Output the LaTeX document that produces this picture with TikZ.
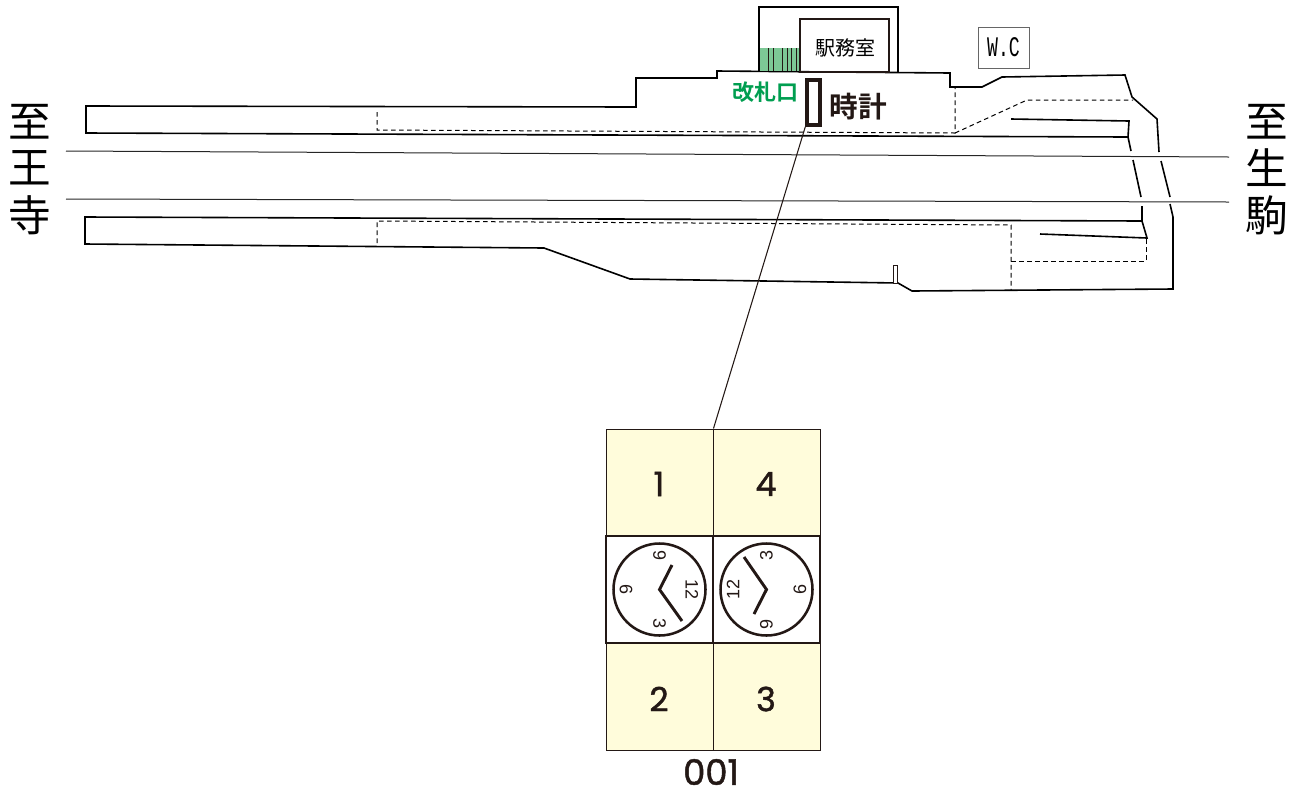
\documentclass[tikz,border=0pt]{standalone}
\usepackage{fontspec}
\setmainfont{Liberation Sans}
\newfontfamily\jpfont{Noto Sans CJK JP}
\newfontfamily\jpbold{Noto Sans CJK JP Bold}
\newfontfamily\numfont[FakeBold=1.3]{Poppins}
\newfontfamily\wcfont{Liberation Mono}
\definecolor{cellyellow}{RGB}{255,252,219}
\definecolor{gategreen}{RGB}{0,158,80}
\definecolor{stripegreen}{RGB}{125,200,150}
\definecolor{inkdark}{RGB}{35,24,21}
\tikzset{
    wall/.style={line width=1.2pt, black, line join=miter},
    hidden/.style={line width=0.75pt, dash pattern=on 3.5pt off 2.5pt, black},
    track/.style={line width=0.75pt, black!85},
    cell/.style={draw=inkdark, line width=0.7pt, fill=cellyellow, minimum width=80.25pt, minimum height=80.25pt, inner sep=0pt},
    numeral/.style={font=\numfont\fontsize{25}{25}\selectfont, text=inkdark, inner sep=0pt},
    clockbox/.style={draw=inkdark, line width=2.2pt, fill=white, minimum width=80.25pt, minimum height=80.25pt, inner sep=0pt},
    clockface/.style={draw=inkdark, line width=1.9pt, circle, fill=white, minimum size=69pt, inner sep=0pt},
    hand/.style={inkdark, line width=2.2pt},
    dial/.style={font=\fontsize{13.5}{13.5}\selectfont, text=inkdark, inner sep=0pt},
    kanji/.style={font=\jpfont\fontsize{32}{32}\selectfont, text=black, inner sep=0pt}
}
\begin{document}
\begin{tikzpicture}[x=0.75pt,y=-0.75pt]
    \useasboundingbox (0,0) rectangle (1299,790);

    % platform outlines
    \draw[wall] (1131,151) -- (1128,137) -- (86,133) -- (86,106) -- (636,107) -- (636,78) -- (717,78) -- (717,71) -- (950,73) -- (950,87) -- (982,87) -- (1002,77) -- (1125,75) -- (1132,97) -- (1157,119) -- (1159,152);
    \draw[wall] (1133,160) -- (1141,197);
    \draw[wall] (1161,161) -- (1170,197);
    \draw[wall] (1142,206) -- (1142,221) -- (85,217) -- (85,244) -- (544,248) -- (630,279) -- (898,283) -- (912,291) -- (1173,289) -- (1173,217) -- (1170,204);
    \draw[wall] (1011,119) -- (1129,121) -- (1128,137);
    \draw[wall] (1040,234) -- (1147,238) -- (1142,221);

    % hidden edges
    \draw[hidden] (377,112) -- (377,130) -- (955,133) -- (955,87);
    \draw[hidden] (955,133) -- (1027,100) -- (1133,100);
    \draw[hidden] (377,243) -- (377,221) -- (1011,225) -- (1011,290);
    \draw[hidden] (1011,261) -- (1146,261) -- (1146,238);

    % tracks
    \draw[track] (66,151) -- (1229,157);
    \draw[track] (66,199) -- (1229,202);

    % building
    \fill[stripegreen] (759,48) rectangle (800,71);
    \foreach \x in {768,773,782,787,791,796}
        \draw[inkdark, line width=0.6pt] (\x,48) -- (\x,71);
    \draw[wall] (759,71) -- (759,7) -- (898,7) -- (898,72);
    \node[draw=inkdark, line width=0.9pt, minimum width=66.75pt, minimum height=39.75pt, inner sep=0pt] (office) at (844.5,45.5) {};
    \node[inner sep=0pt] (officetext) at (845,48) {\jpfont\fontsize{15}{15}\selectfont 駅務室};
    \node[draw=black!60, line width=0.7pt, minimum width=38.25pt, minimum height=30.75pt, inner sep=0pt] (wc) at (1003.5,47.5) {\scalebox{.8}[1.25]{\wcfont\fontsize{17}{17}\selectfont W.C}};
    \draw[inkdark, line width=0.6pt, fill=white] (893,265) rectangle (897,283);

    \node[text=gategreen, inner sep=0pt] (gate) at (765,92) {\jpbold\fontsize{16.5}{16.5}\selectfont 改札口};
    \node[text=inkdark, inner sep=0pt] (clocklabel) at (858,107) {\jpbold\fontsize{21.5}{21.5}\selectfont 時計};
    \node[draw=inkdark, line width=2.5pt, fill=white, minimum width=9.75pt, minimum height=33.75pt, inner sep=0pt] (clockmark) at (813.5,102.5) {};

    % direction labels
    \node[kanji] (westa) at (30,122) {至};
    \node[kanji] (westb) at (30,168) {王};
    \node[kanji] (westc) at (30,215) {寺};
    \node[kanji] (easta) at (1267,122) {至};
    \node[kanji] (eastb) at (1267,168) {生};
    \node[kanji] (eastc) at (1267,215) {駒};

    % sign panel
    \node[cell] (one) at (659.5,482.5) {};
    \node[cell] (four) at (766.5,482.5) {};
    \node[cell] (two) at (659.5,696.5) {};
    \node[cell] (three) at (766.5,696.5) {};
    \node[numeral] (onetext) at (659,484) {1};
    \node[numeral] (fourtext) at (766,484) {4};
    \node[numeral] (twotext) at (659,699) {2};
    \node[numeral] (threetext) at (766,699) {3};
    \node[clockbox] (boxl) at (659.5,589.5) {};
    \node[clockbox] (boxr) at (766.5,589.5) {};
    \node[numeral, font=\numfont\fontsize{26.5}{26.5}\selectfont] (code) at (711,772) {001};
    \draw[inkdark, line width=0.8pt] (clockmark.south west) -- (one.north east);

    % left face
    \node[clockface] (facel) at (659.5,589.5) {};
    \node[dial, rotate=-90] (ltwelve) at (692,589.5) {12};
    \node[dial, rotate=-90] (lthree) at (659.5,623) {3};
    \node[dial, rotate=-90] (lsix) at (626,589.5) {6};
    \node[dial, rotate=-90] (lnine) at (659.5,555) {9};
    \coordinate (lmin) at (672,565);
    \coordinate (lhour) at (682,621);
    \draw[hand] (lmin) -- (facel.center) -- (lhour);

    % right face
    \node[clockface] (facer) at (766.5,589.5) {};
    \node[dial, rotate=90] (rtwelve) at (733,589.5) {12};
    \node[dial, rotate=90] (rthree) at (766.5,555) {3};
    \node[dial, rotate=90] (rsix) at (800,589.5) {6};
    \node[dial, rotate=90] (rnine) at (766.5,624) {9};
    \coordinate (rmin) at (744,557);
    \coordinate (rhour) at (754,614);
    \draw[hand] (rmin) -- (facer.center) -- (rhour);
\end{tikzpicture}
\end{document}
